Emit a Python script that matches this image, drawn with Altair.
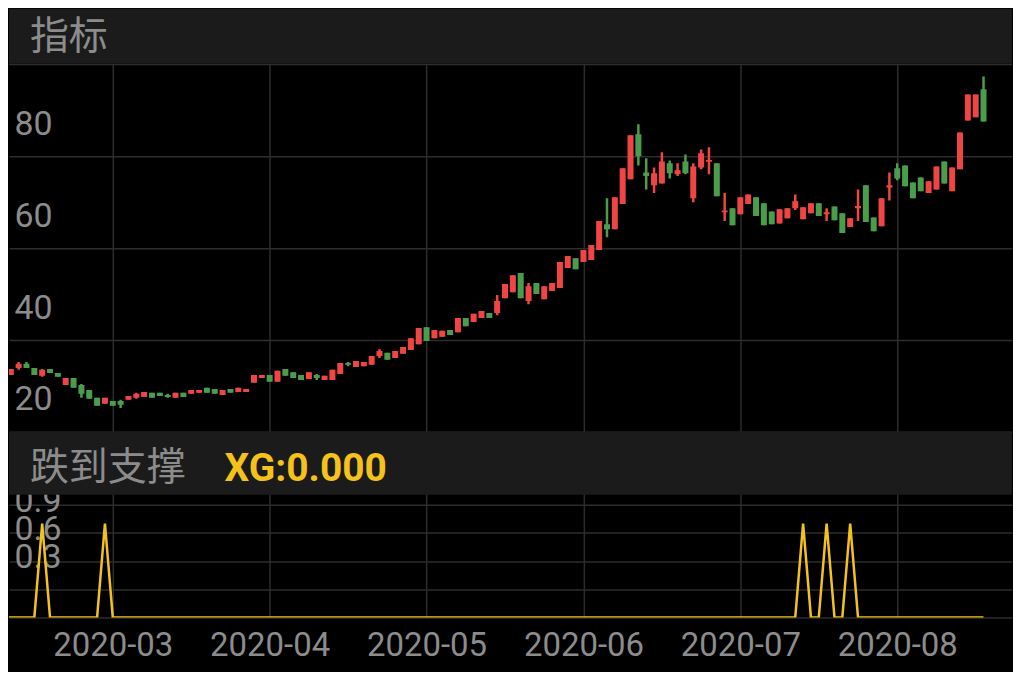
import altair as alt
import pandas as pd

# ---------------- data ----------------
opens = [32.6, 32.4, 33.9, 34.8, 33.9, 32.2, 33.7, 32.8, 30.2, 31.7,
         30.2, 29.1, 27.4, 26.1, 26.7, 26.7, 27.0, 27.4, 27.6, 28.5,
         28.5, 28.0, 27.4, 28.5, 28.3, 28.5, 29.6, 29.3, 28.0, 29.3,
         28.7, 28.7, 30.7, 31.7, 32.4, 30.9, 33.7, 33.0, 32.4, 31.5,
         32.4, 31.3, 31.3, 32.6, 35.0, 34.1, 34.3, 34.6, 36.5, 37.2,
         36.1, 37.0, 37.8, 39.1, 42.8, 40.4, 40.7, 42.2, 41.7, 44.8,
         43.9, 44.8, 45.9, 45.9, 49.1, 50.4, 54.6, 48.5, 52.4, 48.9,
         50.7, 51.3, 55.7, 57.8, 57.0, 57.4, 59.6, 65.2, 64.1, 69.6,
         75.0, 84.8, 76.5, 73.7, 74.1, 78.5, 76.1, 78.9, 70.9, 77.6,
         78.8, 78.5, 67.8, 68.7, 67.4, 69.6, 71.1, 69.8, 68.0, 65.4,
         66.5, 68.7, 66.3, 67.6, 69.8, 67.4, 69.1, 67.6, 64.6, 68.7,
         73.7, 66.7, 64.8, 73.2, 77.4, 78.0, 74.3, 75.4, 72.0, 72.8,
         78.9, 72.4, 77.2, 87.8, 88.5, 94.6]
closes = [33.3, 33.7, 34.8, 33.9, 32.4, 33.5, 32.8, 32.0, 31.7, 29.6,
          28.3, 27.2, 25.7, 27.4, 25.7, 25.9, 27.8, 28.3, 28.7, 27.4,
          27.8, 27.6, 28.5, 27.6, 29.1, 29.1, 28.5, 28.3, 29.1, 28.5,
          29.6, 29.3, 32.4, 32.4, 30.9, 33.3, 32.2, 31.7, 31.3, 33.0,
          31.7, 32.2, 33.5, 35.0, 34.6, 35.4, 35.2, 36.5, 37.6, 35.7,
          37.6, 38.5, 40.4, 42.6, 39.8, 42.2, 42.0, 41.1, 44.8, 43.0,
          45.7, 46.3, 44.8, 48.5, 52.2, 54.1, 49.1, 51.7, 50.0, 51.7,
          52.4, 57.0, 58.3, 55.4, 59.6, 60.7, 65.9, 64.1, 71.1, 77.4,
          84.6, 80.0, 75.7, 76.3, 78.9, 76.3, 77.0, 76.3, 77.8, 80.7,
          79.2, 71.3, 68.2, 65.0, 71.1, 71.7, 67.0, 65.0, 65.2, 68.5,
          68.7, 70.2, 68.9, 69.8, 67.0, 67.8, 66.1, 63.3, 66.5, 69.2,
          65.7, 63.7, 70.9, 73.7, 75.2, 73.5, 70.9, 72.4, 74.6, 77.8,
          74.1, 77.6, 85.2, 93.5, 93.5, 87.6]
highs = [33.4, 33.7, 35.2, 35.2, 33.9, 33.7, 33.7, 32.8, 31.7, 31.7,
         30.4, 29.1, 27.4, 27.4, 26.7, 27.0, 27.8, 28.5, 28.7, 28.5,
         28.5, 28.3, 28.5, 28.5, 29.1, 29.1, 29.6, 29.3, 29.1, 29.3,
         29.6, 29.3, 32.4, 32.4, 32.4, 33.3, 33.7, 33.0, 32.4, 33.0,
         32.6, 32.2, 33.5, 35.0, 35.2, 35.4, 35.2, 36.5, 38.0, 37.2,
         37.6, 38.5, 40.4, 42.6, 42.8, 42.2, 42.0, 42.2, 44.8, 44.8,
         45.7, 46.3, 45.9, 49.8, 52.2, 54.1, 54.6, 52.4, 52.4, 51.7,
         52.4, 57.0, 58.3, 57.8, 59.6, 60.7, 65.9, 70.9, 71.1, 77.4,
         84.6, 87.0, 79.6, 77.6, 80.9, 79.1, 78.5, 80.4, 78.5, 81.5,
         82.0, 78.5, 72.0, 68.7, 71.1, 71.7, 71.1, 69.8, 68.0, 68.5,
         68.7, 71.7, 68.9, 69.8, 69.8, 68.7, 69.1, 67.6, 66.5, 72.8,
         73.7, 66.7, 70.9, 76.5, 78.5, 78.0, 74.3, 75.4, 74.6, 77.8,
         78.9, 77.6, 85.2, 93.5, 93.5, 97.4]
lows = [32.5, 32.4, 33.5, 33.9, 32.4, 32.0, 32.8, 32.0, 30.2, 29.6,
        27.4, 27.2, 25.7, 26.1, 25.7, 25.2, 27.0, 27.2, 27.6, 27.4,
        27.8, 27.4, 27.4, 27.6, 28.3, 28.5, 28.5, 28.3, 28.0, 28.5,
        28.7, 28.7, 30.7, 31.7, 30.9, 30.9, 32.2, 31.7, 31.3, 31.5,
        31.3, 31.3, 31.3, 32.6, 34.3, 34.1, 34.3, 34.6, 36.1, 35.7,
        36.1, 37.0, 37.8, 39.1, 39.8, 40.4, 40.7, 41.1, 41.7, 43.0,
        43.9, 44.8, 44.8, 45.4, 49.1, 50.4, 49.1, 47.8, 50.0, 48.9,
        50.7, 51.3, 55.7, 55.4, 57.0, 57.4, 59.6, 62.4, 64.1, 69.6,
        75.0, 78.0, 72.8, 72.0, 74.1, 75.2, 75.7, 76.1, 70.0, 77.2,
        76.1, 71.3, 65.9, 65.0, 67.4, 69.6, 67.0, 65.0, 65.2, 65.4,
        66.5, 68.3, 66.3, 67.6, 67.0, 65.9, 66.1, 63.3, 64.6, 65.9,
        65.7, 63.7, 64.8, 70.4, 74.8, 73.5, 70.9, 72.4, 72.0, 72.8,
        74.1, 72.4, 77.2, 87.8, 88.5, 87.6]
xg = [0, 0, 0, 0, 0, 1, 0, 0, 0, 0,
      0, 0, 0, 1, 0, 0, 0, 0, 0, 0,
      0, 0, 0, 0, 0, 0, 0, 0, 0, 0,
      0, 0, 0, 0, 0, 0, 0, 0, 0, 0,
      0, 0, 0, 0, 0, 0, 0, 0, 0, 0,
      0, 0, 0, 0, 0, 0, 0, 0, 0, 0,
      0, 0, 0, 0, 0, 0, 0, 0, 0, 0,
      0, 0, 0, 0, 0, 0, 0, 0, 0, 0,
      0, 0, 0, 0, 0, 0, 0, 0, 0, 0,
      0, 0, 0, 0, 0, 0, 0, 0, 0, 0,
      0, 0, 1, 0, 0, 1, 0, 0, 1, 0,
      0, 0, 0, 0, 0, 0, 0, 0, 0, 0,
      0, 0, 0, 0, 0, 0]
day_index = list(range(len(opens)))

month_ticks = [14, 34, 54, 74, 94, 114]
month_labels = ["2020-03", "2020-04", "2020-05", "2020-06", "2020-07", "2020-08"]
price_ticks = [20, 40, 60, 80]
price_top = 100
xg_ticks = [0, 0.3, 0.6, 0.9, 1.2]
title_main = ["指标"]
title_sub = ["跌到支撑"]
title_value = ["XG:0.000"]

# ---------------- style ----------------
W = 1005
HEADER = "#1b1b1b"
GRID = "#2c2c31"
TXT = "#8c8c8c"
RED = "#f04545"
GREEN = "#4a9d4a"
YELLOW = "#f5c21b"
CJK = "Noto Sans CJK SC"
LAT = "Roboto"
X_DOMAIN = [0.77, 128.63]

df = pd.DataFrame({"i": day_index, "open": opens, "close": closes,
                   "high": highs, "low": lows})
dfl = pd.DataFrame({"i": day_index, "xg": xg})

label_expr = " : ".join(
    f"datum.value == {v} ? '{l}'" for v, l in zip(month_ticks, month_labels)
) + " : ''"

xscale = alt.Scale(domain=X_DOMAIN, nice=False, zero=False, padding=0)

# ---------------- header 1 ----------------
h1 = pd.DataFrame({"t": title_main})
panelA = alt.layer(
    alt.Chart(h1).mark_rect(color=HEADER).encode(
        x=alt.value(0), x2=alt.value(W), y=alt.value(0), y2=alt.value(55)),
    alt.Chart(h1).mark_text(align="left", baseline="middle", font=CJK,
                            fontSize=39, color=TXT).encode(
        x=alt.value(21), y=alt.value(28), text="t:N"),
).properties(width=W, height=55)

# ---------------- candles ----------------
xaxis_grid = alt.Axis(values=month_ticks, labels=False, ticks=False, domain=False,
                      grid=True, gridColor=GRID, gridWidth=1.5, title=None,
                      minExtent=0, maxExtent=0, zindex=0)
yscale = alt.Scale(domain=[20, price_top], nice=False, zero=False)
yaxis = alt.Axis(values=price_ticks,
                 orient="left", labelAlign="left", labelBaseline="middle",
                 labelPadding=-5, labelOffset=-32, ticks=False, tickSize=0,
                 domain=False, grid=True, gridColor=GRID, gridWidth=1.5,
                 labelFont=LAT, labelFontSize=34, labelColor=TXT, title=None,
                 labelOverlap=False, labelBound=False,
                 minExtent=0, maxExtent=0, zindex=0)
color = alt.Color("dir:N", scale=alt.Scale(domain=["up", "down"], range=[RED, GREEN]),
                  legend=None)
base = alt.Chart(df).transform_calculate(
    dir="datum.close >= datum.open ? 'up' : 'down'")
top_rule = alt.Chart(h1).mark_rule(color=GRID, strokeWidth=1.5).encode(
    y=alt.datum(price_top, scale=yscale))
wick = base.mark_rule(strokeWidth=2.5, clip=True).encode(
    x=alt.X("i:Q", scale=xscale, axis=xaxis_grid),
    y=alt.Y("low:Q", scale=yscale, axis=yaxis),
    y2="high:Q", color=color)
body = base.mark_bar(size=6, clip=True).encode(
    x=alt.X("i:Q", scale=xscale, axis=xaxis_grid),
    y=alt.Y("open:Q", scale=yscale, axis=yaxis),
    y2="close:Q", color=color)
panelB = alt.layer(wick, body, top_rule).properties(width=W, height=368)

# ---------------- lower indicator ----------------
xaxis_lab = alt.Axis(values=month_ticks, labelExpr=label_expr, ticks=False, domain=False,
                     grid=True, gridColor=GRID, gridWidth=1.5, title=None,
                     labelFont=LAT, labelFontSize=33, labelColor=TXT, labelPadding=12,
                     labelFlush=False, labelOverlap=False, minExtent=54, maxExtent=54,
                     zindex=0)
yaxis2 = alt.Axis(values=xg_ticks,
                  labelExpr="(datum.value == 0 || datum.value > 1) ? '' : format(datum.value, '.1f')",
                  orient="left", labelAlign="left", labelBaseline="middle",
                  labelPadding=-5, labelOffset=-32, ticks=False, tickSize=0,
                  domain=False, grid=True, gridColor=GRID, gridWidth=1.5,
                  labelFont=LAT, labelFontSize=34, labelColor=TXT, title=None,
                  labelOverlap=False, labelBound=False,
                  minExtent=0, maxExtent=0, zindex=0)
line = alt.Chart(dfl).mark_line(color=YELLOW, strokeWidth=2.5, clip=True).encode(
    x=alt.X("i:Q", scale=xscale, axis=xaxis_lab),
    y=alt.Y("xg:Q", scale=alt.Scale(domain=[0, 1.98], nice=False), axis=yaxis2))
h2 = pd.DataFrame({"a": title_sub, "b": title_value})
hdr2_rect = alt.Chart(h2).mark_rect(color=HEADER).encode(
    x=alt.value(0), x2=alt.value(W), y=alt.value(0), y2=alt.value(63))
hdr2_t1 = alt.Chart(h2).mark_text(align="left", baseline="middle", font=CJK,
                                  fontSize=39, color=TXT).encode(
    x=alt.value(21), y=alt.value(36), text="a:N")
hdr2_t2 = alt.Chart(h2).mark_text(align="left", baseline="middle", font=LAT,
                                  fontWeight="bold", fontSize=39, color=YELLOW).encode(
    x=alt.value(216), y=alt.value(37), text="b:N")
panelC = alt.layer(line, hdr2_rect, hdr2_t1, hdr2_t2).properties(width=W, height=186)

chart = alt.vconcat(panelA, panelB, panelC, spacing=0).properties(
    background="#000000", padding=0
).configure_view(stroke=None)

chart.save("out.html", embed_options={"renderer": "svg", "actions": False})
